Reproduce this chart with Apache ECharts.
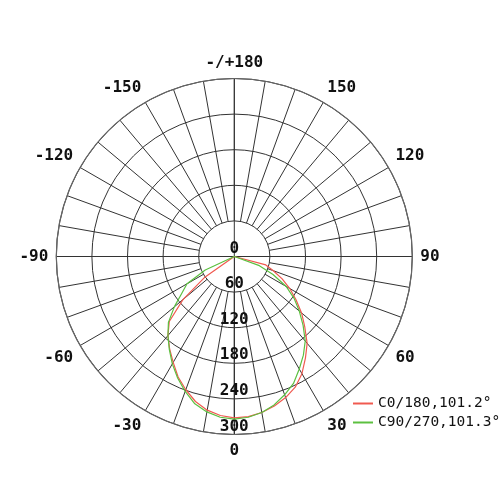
<!DOCTYPE html>
<html>
<head>
<meta charset="utf-8">
<script src="https://cdn.jsdelivr.net/npm/echarts@6/dist/echarts.min.js"></script>
<style>html,body{margin:0;padding:0;background:#fff}#c{width:500px;height:500px}</style>
</head>
<body>
<div id="c"></div>
<script>
var angles = [-90,-85,-80,-75,-70,-65,-60,-55,-50,-45,-40,-35,-30,-25,-20,-15,-10,-5,0,5,10,15,20,25,30,35,40,45,50,55,60,65,70,75,80,85,90];
var c0_180 = [0,0,0,0,0,0,0,60,113,155,174,190,206,224,239,253,263,269,272,271,267,261,253,243,228,209,191,168,148,127,108,89,70,55,0,0,0];
var c90_270 = [0,0,0,0,0,54,92,108,132,157,174,191,209,226,242,257,266,272,274,272,267,259,248,236,219,203,186,164,143,123,101,72,45,0,0,0,0];
var seriesNames = ['C0/180,101.2°', 'C90/270,101.3°'];
var seriesColors = ['#f05a50', '#5cc040'];
var radiusTicks = [0, 60, 120, 180, 240, 300];

var FONT = 'DejaVu Sans Mono';
function toPairs(vals) {
  return vals.map(function (v, i) { return [v, (angles[i] + 360) % 360]; });
}
function angleLabel(v) {
  if (v % 30 !== 0 || v === 360) return '';
  if (v === 180) return '-/+180';
  return String(v > 180 ? v - 360 : v);
}
var center = [234.3, 256.5];
var R = 178;
var GRID = '#333';
var chart = echarts.init(document.getElementById('c'), null, {renderer: 'canvas'});
chart.setOption({
  animation: false,
  backgroundColor: '#fff',
  polar: [
    {center: center, radius: R},
    {center: center, radius: [R * 60 / 300, R]}
  ],
  angleAxis: [
    {polarIndex: 0, type: 'value', min: 0, max: 360, interval: 90, startAngle: 270, clockwise: false,
     axisLine: {show: true, lineStyle: {color: '#666', width: 1.2}},
     axisTick: {show: false}, axisLabel: {show: false},
     splitLine: {show: true, lineStyle: {color: GRID, width: 1}}},
    {polarIndex: 1, type: 'value', min: 0, max: 360, interval: 10, startAngle: 270, clockwise: false,
     axisLine: {show: false}, axisTick: {show: false},
     axisLabel: {show: true, margin: 8, formatter: angleLabel, color: '#111', fontFamily: FONT, fontWeight: 'bold', fontSize: 16},
     splitLine: {show: true, lineStyle: {color: GRID, width: 1}}}
  ],
  radiusAxis: [
    {polarIndex: 0, type: 'value', min: radiusTicks[0], max: radiusTicks[radiusTicks.length - 1], interval: 60,
     axisLine: {show: true, lineStyle: {color: GRID, width: 1}},
     axisTick: {show: false},
     axisLabel: {show: true, margin: 0, align: 'center', verticalAlign: 'bottom', rotate: 0,
                 color: '#111', fontFamily: FONT, fontWeight: 'bold', fontSize: 16},
     splitLine: {show: true, lineStyle: {color: GRID, width: 1}}},
    {polarIndex: 1, type: 'value', min: 0, max: 1, show: false,
     axisLine: {show: false}, axisLabel: {show: false}, splitLine: {show: false}}
  ],
  legend: {
    orient: 'vertical', left: 348, top: 391, itemGap: 4, itemWidth: 20, itemHeight: 2,
    icon: 'rect',
    textStyle: {fontFamily: FONT, fontSize: 14.5, color: '#111'},
    data: seriesNames
  },
  series: [
    {name: seriesNames[0], type: 'line', coordinateSystem: 'polar', polarIndex: 0,
     data: toPairs(c0_180), showSymbol: false, symbol: 'none',
     lineStyle: {color: seriesColors[0], width: 1.2}, itemStyle: {color: seriesColors[0]}},
    {name: seriesNames[1], type: 'line', coordinateSystem: 'polar', polarIndex: 0,
     data: toPairs(c90_270), showSymbol: false, symbol: 'none',
     lineStyle: {color: seriesColors[1], width: 1.2}, itemStyle: {color: seriesColors[1]}}
  ]
});
</script>
</body>
</html>
